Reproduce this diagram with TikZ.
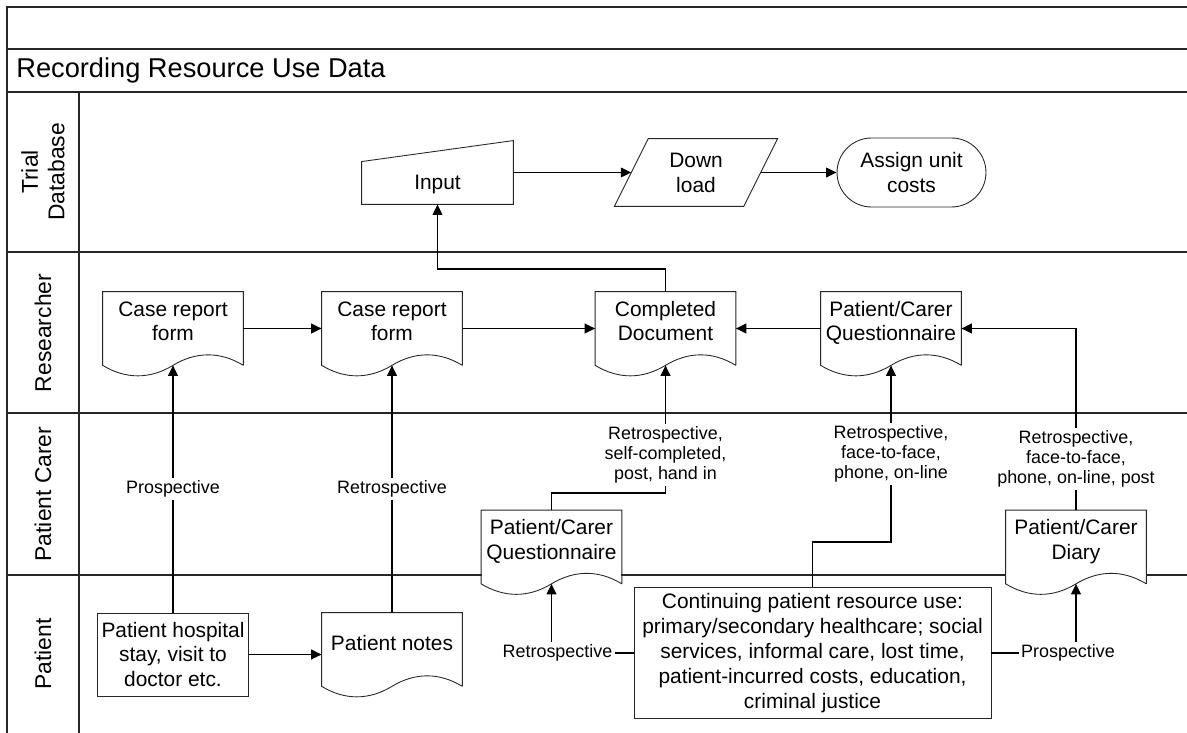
\documentclass[tikz,border=0pt]{standalone}
\usepackage{fontspec}
\setmainfont{Liberation Sans}
\usetikzlibrary{arrows.meta,positioning,calc}

\begin{document}
\begin{tikzpicture}[x=0.02cm, y=-0.02cm]
  \tikzstyle{lane}=[line width=0.8pt, black!85]
  \tikzstyle{box}=[rectangle, draw=black!85, line width=0.5pt, fill=white, align=center, inner xsep=1pt, font=\fontsize{11.9}{14.2}\selectfont]
  \tikzstyle{doc}=[rectangle, fill=white, align=center, minimum width=2.8cm, minimum height=1.46cm, inner xsep=1pt, text height=23.2pt, text depth=9pt, font=\fontsize{11.9}{14.2}\selectfont]
  \tikzstyle{outline}=[draw=black!85, line width=0.5pt]
  \tikzstyle{arr}=[-{Triangle[length=6pt,width=5.5pt]}, line width=1pt]
  \tikzstyle{lbl}=[fill=white, align=center, inner sep=1.5pt, font=\fontsize{10.2}{11.4}\selectfont]
  \tikzstyle{lanename}=[rotate=90, align=center, font=\fontsize{13}{15}\selectfont]

  \useasboundingbox (0,0) rectangle (1187,733);

  % Frame and lanes
  \draw[lane] (1187,7) -- (7,7) -- (7,733);
  \foreach \y in {49,92,252,413,575} \draw[lane] (7,\y) -- (1187,\y);
  \draw[lane] (79,92) -- (79,733);

  \node[anchor=west, inner sep=0, font=\fontsize{15.5}{18}\selectfont] (title) at (16,70) {Recording Resource Use Data};

  \node[lanename] (ln1) at (43,172) {Trial\\Database};
  \node[lanename] (ln2) at (43,333) {Researcher};
  \node[lanename] (ln3) at (43,494) {Patient Carer};
  \node[lanename] (ln4) at (43,654) {Patient};

  % Trial Database
  \node[box, draw=none, fill=none, minimum width=3.02cm, minimum height=1.26cm, text height=19.3pt, text depth=0pt] (input) at (437.5,172.5) {Input};
  \node[box, draw=none, fill=none, minimum width=2.57cm, minimum height=1.34cm] (dl) at (696,172.5) {Down\\load};
  \node[box, rounded corners=0.69cm, minimum width=2.98cm, minimum height=1.38cm] (cost) at (911.5,172.5) {Assign unit\\costs};

  % Researcher
  \node[doc] (crf1) at (173,328.5) {Case report\\form};
  \node[doc] (crf2) at (392,328.5) {Case report\\form};
  \node[doc] (cdoc) at (665.5,328.5) {Completed\\Document};
  \node[doc] (pcq1) at (891,328.5) {Patient/Carer\\Questionnaire};

  % Patient Carer
  \node[doc] (pcq2) at (551.5,547) {Patient/Carer\\Questionnaire};
  \node[doc] (diary) at (1076,547) {Patient/Carer\\Diary};

  % Patient
  \node[box, minimum width=3.02cm, minimum height=1.66cm] (hosp) at (173,654.5) {Patient hospital\\stay, visit to\\doctor etc.};
  \node[doc, text height=9pt, text depth=7.9pt] (notes) at (392,649.5) {Patient notes};
  \node[box, minimum width=7.14cm, minimum height=2.56cm] (use) at (812.5,653) {Continuing patient resource use:\\primary/secondary healthcare; social\\services, informal care, lost time,\\patient-incurred costs, education,\\criminal justice};

  % Shapes
  \foreach \d in {crf1,crf2,cdoc,pcq1,pcq2,diary,notes}
    \draw[outline] (\d.south east) -- (\d.north east) -- (\d.north west) -- (\d.south west)
      .. controls +(23,14) and +(-23,14) .. (\d.south)
      .. controls +(23,-14) and +(-23,-14) .. (\d.south east);
  \draw[outline] (input.south west) -- ($(input.north west)+(0,21)$) -- (input.north east) -- (input.south east) -- cycle;
  \draw[outline] ($(dl.south west)+(-17,0)$) -- ($(dl.north west)+(17,0)$) -- ($(dl.north east)+(17,0)$) -- ($(dl.south east)+(-17,0)$) -- cycle;

  % Connectors
  \draw[arr] (input.east) -- (dl.west);
  \draw[arr] (dl.east) -- (cost.west);
  \draw[arr] (crf1.east) -- (crf2.west);
  \draw[arr] (crf2.east) -- (cdoc.west);
  \draw[arr] (pcq1.west) -- (cdoc.east);
  \draw[arr] (cdoc.north) -- ++(0,-23) -| (input.south);
  \draw[arr] (diary.north) |- node[lbl, pos=0.14] {Retrospective,\\face-to-face,\\phone, on-line, post} (pcq1.east);
  \draw[arr] (use.north) -- ++(0,-45) -| node[lbl, pos=0.75] {Retrospective,\\face-to-face,\\phone, on-line} (pcq1.south);
  \draw[arr] (pcq2.north) -- ++(0,-17) -| node[lbl, pos=0.65] {Retrospective,\\self-completed,\\post, hand in} (cdoc.south);
  \draw[arr] (hosp.north) -- node[lbl] {Prospective} (crf1.south);
  \draw[arr] (notes.north) -- node[lbl] {Retrospective} (crf2.south);
  \draw[arr] (hosp.east) -- (hosp.east -| notes.west);
  \draw[arr] (use.west) -| node[lbl, pos=0.5, xshift=0.12cm] {Retrospective} (pcq2.south);
  \draw[arr] (use.east) -| node[lbl, pos=0.5, xshift=-0.16cm] {Prospective} (diary.south);
\end{tikzpicture}
\end{document}
